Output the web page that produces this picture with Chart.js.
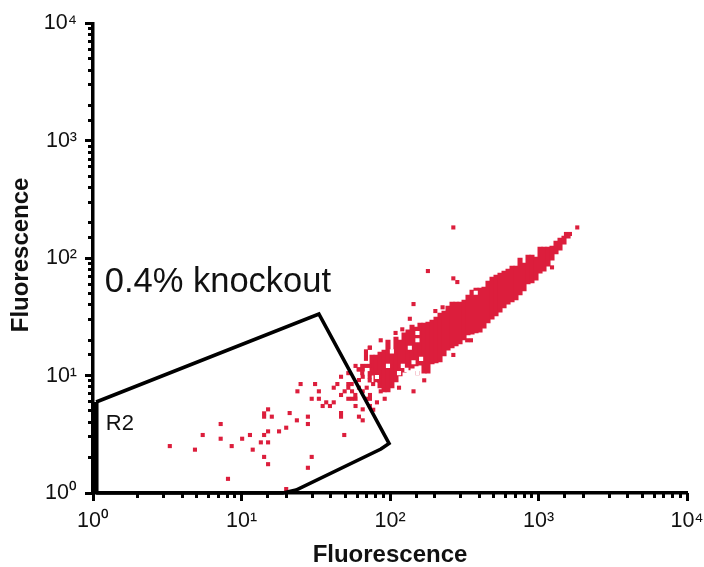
<!DOCTYPE html>
<html>
<head>
<meta charset="utf-8">
<style>html,body{margin:0;padding:0;background:#fff}canvas{display:block}</style>
<script src="https://cdn.jsdelivr.net/npm/chart.js@4"></script>
</head>
<body>
<canvas id="c" width="704" height="567"></canvas>
<script>
const RED = '#DC1E3C';
const axisTitle = 'Fluorescence';
const gateName = 'R2';
const headline = '0.4% knockout';

// Gate outline (x, y fluorescence)
const gateX = [1.05, 33.2, 98.5, 86.9, 23.3, 19.0, 1.05];
const gateY = [5.96, 33.5, 2.64, 2.37, 1.06, 1.0, 1.0];
// Gate edge lying along the y axis
const gateEdgeX = [1.04, 1.04];
const gateEdgeY = [1.0, 5.96];

// Dense population: per-channel upper and lower edges
const cloudX = [75.7,80.5,85.7,91.2,96.9,103,109.7,116.8,124.3,132.2,140.7,149.7,159.2,169.4,180.2,191.8,204.1,217.2,231.1,245.9,261.6,278.4,296.2,315.2,335.2,356.8,379.6,403.9,429.5,457,486.4,517.5,550.5,586,623.5,663.4,705.4,751,799,850,904,962,1024,1089,1159,1233,1312,1396,1485,1581];
const cloudTop = [15.0,15.0,15.9,16.5,20.1,16.5,21.3,20.1,23.1,24.5,27.0,25.9,28.1,28.1,28.6,29.8,31.6,34.1,35.5,39.2,42.4,42.4,42.4,44.1,48.6,53.6,55.7,55.7,56.9,64.0,69.2,71.9,74.8,77.8,80.9,85.8,85.8,100.4,91.0,106.5,106.5,102.4,124.6,124.6,124.6,127,140.1,148.6,154.6,163.9];
const cloudBottom = [10.1,8.82,7.84,7.25,7.25,7.84,8.82,9.92,10.7,11.2,11.6,12.1,12.3,10.5,10.5,12.6,12.8,13.1,14.7,16.5,17.2,17.9,18.6,20.1,22.2,22.6,23.1,23.5,25.4,28.1,30.3,32.2,34.8,37.7,40.7,42.4,44.1,48.6,52.6,60.3,61.5,65.2,74.8,77.8,85.8,96.5,108.6,117.4,132.1,148.6];

// Empty channels inside the dense population
const holeX = [96.9,122,81.7,115,129,144,162,136,153,103,153,378,153];
const holeY = [12.1,12.1,9.73,10.5,11.2,13.0,13.9,17.3,20.0,16.1,10.5,50.8,23.1];

// Individual events
const eventX = [3.29,4.86,5.48,7.24,7.24,8.11,8.59,10.1,11.4,11.9,13.5,14.2,14.2,15.1,15.1,15.1,14.2,14.2,15.1,16.0,17.9,20.0,21.1,23.6,28.0,28.0,29.7,28.0,20.0,49.2,46.8,46.8,61.8,65.5,65.5,
25.0,31.3,23.8,33.2,29.7,33.2,35.2,37.2,39.4,41.8,41.8,44.2,46.8,46.8,49.5,52.4,52.4,52.4,55.5,52.4,55.5,58.6,58.6,58.6,61.8,65.5,73.0,68.9,68.9,68.9,
61.8,65.5,69.7,61.8,65.5,55.2,58.4,73.3,73.3,69.7,81.7,92.1,86.6,73.3,77.1,77,85,
115,144,170,153,267,331,351,1233,1824,1531,1629,267,180,267,284,144,202,226,136,121,109,86.6,73.3,
65,68.9,73,61.5,65,65,73,73,73];
const eventY = [2.51,2.34,3.12,3.87,2.90,1.32,2.51,2.90,3.12,2.34,2.70,3.12,2.03,3.35,2.70,1.76,4.77,4.47,5.16,4.47,3.35,3.60,4.80,4.16,4.47,3.87,2.03,1.64,1.08,3.12,4.80,4.47,4.47,4.16,5.16,
8.48,8.48,7.35,7.35,6.35,6.35,5.51,5.92,5.51,5.92,7.89,8.48,9.78,6.84,7.35,10.5,8.48,7.89,7.35,6.35,6.35,6.35,5.51,12.1,11.3,11.3,17.3,16.1,15.0,13.9,
7.89,7.35,7.89,9.17,9.78,8.48,6.84,6.84,6.35,6.35,5.92,6.35,7.35,5.51,5.12,8.48,9.0,
7.89,7.35,9.12,10.5,15.0,20.0,20.0,83.6,183,161,161,183,77.8,67.4,62.7,40.7,35.5,38.2,30.5,24.8,23.1,20.0,17.3,
12.1,12.1,12.1,11.3,11.3,10.5,10.5,9.73,9.1];

const SUP = {0:'⁰',1:'¹',2:'²',3:'³',4:'⁴'};
const zip = (xs, ys) => xs.map((x, i) => ({x, y: ys[i]}));
const isPow10 = v => Math.abs(Math.log10(v) - Math.round(Math.log10(v))) < 1e-9;

const majorLabel = v => isPow10(v) ? '10' + SUP[Math.round(Math.log10(v))] : '';
const tickFont = {family: '"Liberation Sans", Arial, sans-serif', size: 21.5};
const titleFont = {family: '"Liberation Sans", Arial, sans-serif', size: 24, weight: 'bold', lineHeight: 0.95};

function majorAxis(pos, extra, pad) {
  return Object.assign({
    type: 'logarithmic', position: pos, min: 1, max: 10000, weight: 1, offset: false,
    border: {display: true, width: 3.5, color: '#000'},
    grid: {drawOnChartArea: false, drawTicks: true, offset: false, tickLength: 8, tickWidth: 3, tickColor: '#000'},
    afterBuildTicks: s => { s.ticks = s.ticks.filter(t => isPow10(t.value)); },
    ticks: {autoSkip: false, maxRotation: 0, minRotation: 0, color: '#111', font: tickFont, padding: pad, callback: majorLabel}
  }, extra);
}
function minorAxis(pos, fit) {
  return {
    type: 'logarithmic', position: pos, min: 1, max: 10000, weight: -1, offset: false,
    border: {display: false},
    grid: {drawOnChartArea: false, drawTicks: true, offset: false, tickLength: 5, tickWidth: 3, tickColor: '#000'},
    ticks: {autoSkip: false, maxRotation: 0, minRotation: 0, font: {size: 1}, padding: 0, callback: () => ''},
    afterFit: fit
  };
}

const notes = {
  id: 'notes',
  afterDatasetsDraw(chart) {
    const {ctx, scales: {x, y}} = chart;
    ctx.save();
    ctx.fillStyle = '#111';
    ctx.textBaseline = 'alphabetic';
    ctx.font = '34.5px "Liberation Sans", Arial, sans-serif';
    ctx.fillText(headline, x.getPixelForValue(1.2), y.getPixelForValue(51.5));
    ctx.font = '22px "Liberation Sans", Arial, sans-serif';
    ctx.fillText(gateName, x.getPixelForValue(1.22), y.getPixelForValue(3.44));
    ctx.restore();
  }
};

new Chart(document.getElementById('c'), {
  type: 'scatter',
  data: {datasets: [
    {label: 'Gate R2', data: zip(gateX, gateY), showLine: true, borderColor: '#000', borderWidth: 3.6, pointRadius: 0, fill: false, order: 0, clip: false},
    {label: 'Gate R2 axis edge', data: zip(gateEdgeX, gateEdgeY), showLine: true, borderColor: '#000', borderWidth: 6, pointRadius: 0, fill: false, order: 0, clip: false},
    {label: 'Empty', data: zip(holeX, holeY), pointStyle: 'rect', pointRadius: 2.9, backgroundColor: '#fff', borderWidth: 0, order: 1},
    {label: 'Events', data: zip(eventX, eventY), pointStyle: 'rect', pointRadius: 2.9, backgroundColor: RED, borderWidth: 0, order: 2, clip: false},
    {type: 'bar', label: 'Population', data: cloudX.map((x, i) => ({x, y: [cloudBottom[i], cloudTop[i]]})), backgroundColor: RED, borderWidth: 0, barThickness: 4.4, grouped: false, order: 3}
  ]},
  options: {
    responsive: false,
    animation: false,
    layout: {autoPadding: false, padding: {top: 23.5, right: 17, bottom: 0, left: 0}},
    plugins: {legend: {display: false}, tooltip: {enabled: false}},
    elements: {line: {tension: 0}},
    scales: {
      x: majorAxis('bottom', {
        afterFit: s => { s.height = 74; s.paddingRight = 0; },
        title: {display: true, text: axisTitle, color: '#111', font: titleFont, padding: {top: 0, bottom: 0}}
      }, 7),
      y: majorAxis('left', {
        afterFit: s => { s.width = 93; s.paddingTop = 0; },
        title: {display: true, text: ' ' + axisTitle, color: '#111', font: titleFont, padding: {top: 9.5, bottom: 0}}
      }, 8),
      xm: minorAxis('bottom', s => { s.height = 0; s.paddingRight = 0; }),
      ym: minorAxis('left', s => { s.width = 0; s.paddingTop = 0; })
    }
  },
  plugins: [notes]
});
</script>
</body>
</html>
